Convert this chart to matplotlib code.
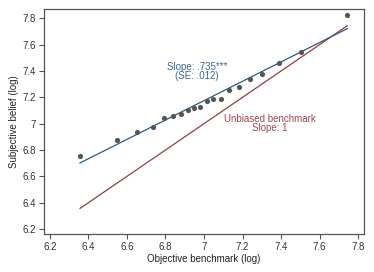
import matplotlib
matplotlib.use("Agg")
import matplotlib.pyplot as plt
from matplotlib.ticker import FuncFormatter
import numpy as np

plt.rcParams["font.family"] = ["Liberation Sans", "DejaVu Sans"]

# binned scatter (20 bins)
obj_x = [6.356, 6.546, 6.654, 6.735, 6.791, 6.839, 6.881, 6.915, 6.946, 6.979,
         7.016, 7.048, 7.088, 7.131, 7.180, 7.239, 7.303, 7.391, 7.504, 7.744]
subj_y = [6.753, 6.875, 6.933, 6.976, 7.040, 7.057, 7.072, 7.103, 7.116, 7.128,
          7.171, 7.189, 7.186, 7.255, 7.280, 7.336, 7.374, 7.458, 7.546, 7.825]

fit_slope = 0.735
fit_intercept = 2.030

xticks = [6.2, 6.4, 6.6, 6.8, 7.0, 7.2, 7.4, 7.6, 7.8]
yticks = [6.2, 6.4, 6.6, 6.8, 7.0, 7.2, 7.4, 7.6, 7.8]

blue = "#25598c"
blue_txt = "#3a6898"
red = "#9c3a42"
red_txt = "#a0464d"
dot = "#555555"
spine_c = "#555555"

fig = plt.figure(figsize=(3.74, 2.72), dpi=100)
ax = fig.add_axes([0.1176, 0.1397, 0.8557, 0.8272])

xs = np.array([min(obj_x), max(obj_x)])
ax.plot(xs, xs, color=red, lw=0.9, zorder=2)
ax.plot(xs, fit_intercept + fit_slope * xs, color=blue, lw=0.9, zorder=3)
ax.scatter(obj_x, subj_y, s=14, color=dot, zorder=4, linewidths=0)

ax.text(6.964, 7.430, "Slope: .735***", color=blue_txt, fontsize=7, ha="center", va="center")
ax.text(6.964, 7.361, "(SE: .012)", color=blue_txt, fontsize=7, ha="center", va="center")
ax.text(7.343, 7.034, "Unbiased benchmark", color=red_txt, fontsize=7, ha="center", va="center")
ax.text(7.343, 6.967, "Slope: 1", color=red_txt, fontsize=7, ha="center", va="center")

ax.set_xlim(6.169, 7.831)
ax.set_ylim(6.162, 7.871)
ax.set_xticks(xticks)
ax.set_yticks(yticks)
fmt = FuncFormatter(lambda v, p: f"{v:g}")
ax.xaxis.set_major_formatter(fmt)
ax.yaxis.set_major_formatter(fmt)
ax.tick_params(labelsize=7, length=3.5, width=0.8, color=spine_c, labelcolor="#333333", pad=2)

for s in ax.spines.values():
    s.set_color(spine_c)
    s.set_linewidth(0.9)

ax.set_xlabel("Objective benchmark (log)", fontsize=7, color="#222222", labelpad=2)
ax.set_ylabel("Subjective belief (log)", fontsize=7, color="#222222", labelpad=3)

fig.savefig("out.png", dpi=100, facecolor="white")
